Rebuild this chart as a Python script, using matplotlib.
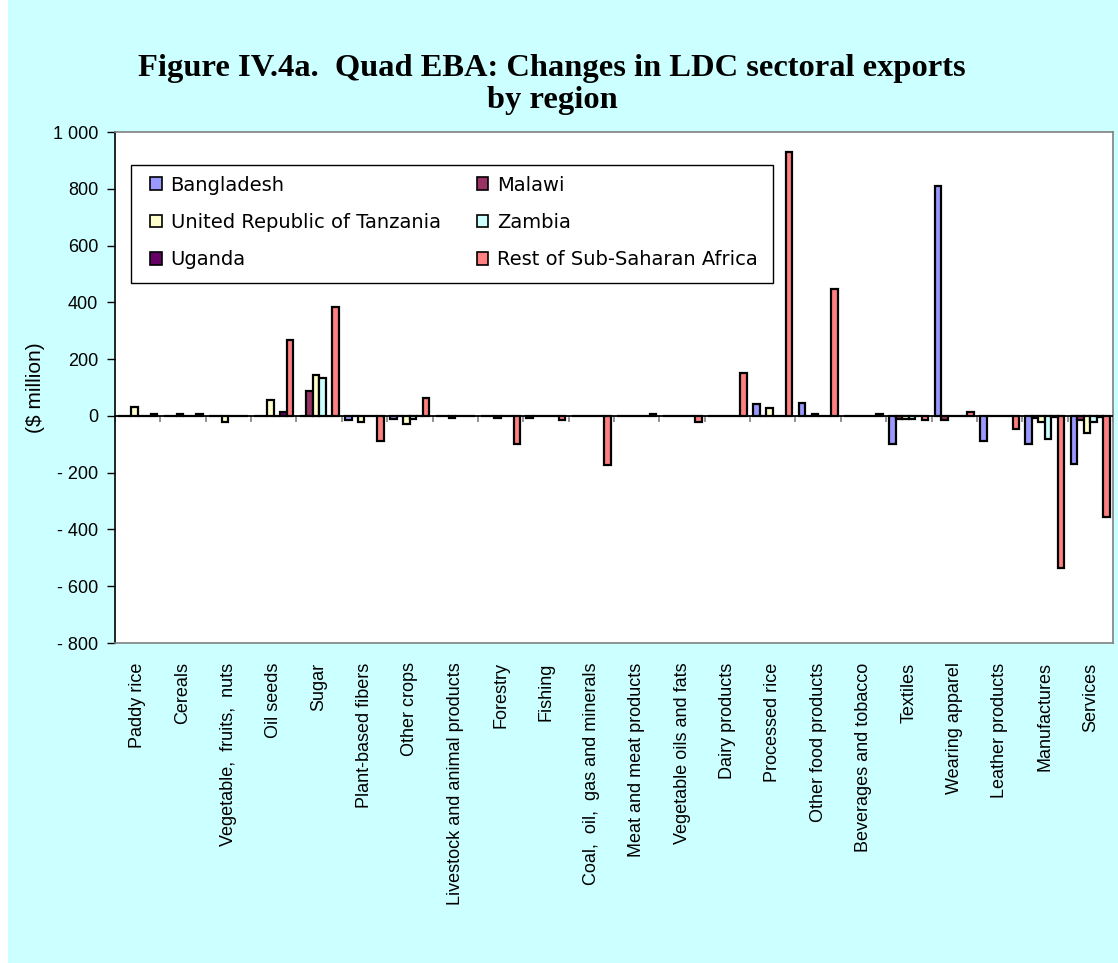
import matplotlib
matplotlib.use("Agg")
import matplotlib.pyplot as plt
import numpy as np
from matplotlib.patches import Patch, Rectangle
from matplotlib.ticker import FuncFormatter

categories = ["Paddy rice", "Cereals", "Vegetable,  fruits,  nuts", "Oil seeds", "Sugar",
              "Plant-based fibers", "Other crops", "Livestock and animal products",
              "Forestry", "Fishing", "Coal,  oil,  gas and minerals", "Meat and meat products",
              "Vegetable oils and fats", "Dairy products", "Processed rice",
              "Other food products", "Beverages and tobacco", "Textiles",
              "Wearing apparel", "Leather products", "Manufactures", "Services"]

series_names = ["Bangladesh", "Malawi", "United Republic of Tanzania", "Zambia",
                "Uganda", "Rest of Sub-Saharan Africa"]

bangladesh = [0, 0, 0, 0, 0, -15, -10, 0, 0, -8, 0, 0, 0, 0, 41, 47, 0, -100, 810, -88, -100, -170]
malawi     = [0, 0, 0, 0, 88, 0, 0, 0, 0, 0, 0, 0, 0, 0, 0, 0, 0, -10, -15, 0, -8, -15]
tanzania   = [33, 6, -22, 55, 145, -23, -30, -8, -8, 0, 0, 0, 0, 0, 27, 5, 0, -10, 0, 0, -23, -62]
zambia     = [0, 0, 0, 0, 134, 0, -10, 0, 0, 0, 0, 0, 0, 0, 0, 0, 0, -10, 0, 0, -80, -23]
uganda     = [0, 0, 0, 12, 0, 0, 0, 0, 0, 0, 0, 0, 0, 0, 0, 0, 0, 0, 0, 0, -5, -5]
rest_ssa   = [6, 5, 0, 267, 385, -88, 64, 0, -100, -15, -172, 5, -22, 152, 929, 448, 5, -15, 13, -45, -537, -355]

series_values = [bangladesh, malawi, tanzania, zambia, uganda, rest_ssa]
colors = ["#9999FF", "#993366", "#FFFFCC", "#CCFFFF", "#660066", "#FF8080"]

yticks = [1000, 800, 600, 400, 200, 0, -200, -400, -600, -800]

W, H, DPI = 1118, 963, 100
fig = plt.figure(figsize=(W / DPI, H / DPI), dpi=DPI, facecolor="white")
bg = Rectangle((8 / W, 0), 1 - 8 / W, 1, transform=fig.transFigure,
               facecolor="#CCFFFF", edgecolor="none", zorder=-10)
fig.patches.append(bg)
ax = fig.add_axes([115 / W, 1 - 643 / H, (1113 - 115) / W, (643 - 132) / H])
ax.set_zorder(1)
ax.set_facecolor("white")

n = len(categories)
x = np.arange(n)
bw = 0.143
for i, (vals, c) in enumerate(zip(series_values, colors)):
    offs = (i - 2.5) * bw
    ax.bar(x + offs, vals, width=bw, color=c, edgecolor="black", linewidth=1.6, zorder=3)

ax.set_xlim(-0.5, n - 0.5)
ax.set_ylim(-800, 1000)
ax.axhline(0, color="black", linewidth=1.3, zorder=4)
# category-boundary tick marks on the zero line
ax.vlines(np.arange(n + 1) - 0.5, -22, 0, color="#808080", linewidth=1.2, zorder=2)

ax.set_yticks(yticks)
def fmt(v, pos):
    v = int(round(v))
    s = f"{abs(v):,}".replace(",", " ")
    return ("- " + s) if v < 0 else s
ax.yaxis.set_major_formatter(FuncFormatter(fmt))
ax.tick_params(axis="y", direction="out", length=6, width=1, labelsize=13, pad=6)
for lab in ax.get_yticklabels():
    lab.set_family("Liberation Sans")

ax.set_xticks(x)
ax.set_xticklabels(categories, rotation=90, fontsize=13, family="Liberation Sans",
                   ha="center", va="top")
ax.tick_params(axis="x", length=0, pad=14)

for s in ["top", "right", "bottom"]:
    ax.spines[s].set_color("#808080")
    ax.spines[s].set_linewidth(1.2)
ax.spines["left"].set_color("black")
ax.spines["left"].set_linewidth(1.2)

ax.set_ylabel("($ million)", fontsize=15, family="Liberation Sans", labelpad=6)

# legend frame
def ax_x(px):
    return (px - 115) / 998
def ax_y(py):
    return (643 - py) / 511
frame = Rectangle((ax_x(131), ax_y(283)), ax_x(773) - ax_x(131), ax_y(165) - ax_y(283),
                  transform=ax.transAxes, facecolor="white", edgecolor="black",
                  linewidth=1.0, zorder=5)
ax.add_patch(frame)

order = [0, 2, 4, 1, 3, 5]
handles = [Patch(facecolor=colors[i], edgecolor="black", linewidth=1.2) for i in order]
labels = [series_names[i] for i in order]
leg = ax.legend(handles, labels, ncol=2, loc="center left",
                bbox_to_anchor=(ax_x(150), ax_y(222.5)),
                prop={"family": "DejaVu Sans", "size": 14.0},
                frameon=False, borderpad=0, borderaxespad=0,
                handlelength=0.6, handleheight=0.6, handletextpad=0.46,
                columnspacing=1.85, labelspacing=0.95)
leg.set_zorder(6)

fig.text(0.494, 1 - 54 / H, "Figure IV.4a.  Quad EBA: Changes in LDC sectoral exports\nby region",
         ha="center", va="top", fontsize=23.4, fontweight="bold", family="Liberation Serif",
         linespacing=1.12)

fig.savefig("out.png", dpi=DPI, facecolor=fig.get_facecolor())
